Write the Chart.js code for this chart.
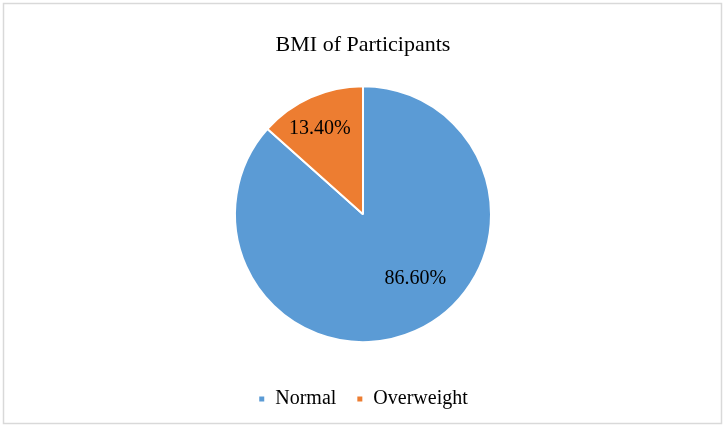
<!DOCTYPE html>
<html>
<head>
<meta charset="utf-8">
<script src="https://cdn.jsdelivr.net/npm/chart.js@4"></script>
<style>
  html, body { margin: 0; padding: 0; background: #fff; }
  #wrap { width: 726px; height: 429px; }
</style>
</head>
<body>
<div id="wrap"><canvas id="myChart" width="726" height="429"></canvas></div>
<script>
const categories = ["Normal", "Overweight"];
const shares = [86.6, 13.4];
const sliceColors = ["#5B9BD5", "#ED7D31"];

// outer border of the chart box
const frame = {
  id: "frame",
  beforeDraw(chart) {
    const c = chart.ctx;
    c.save();
    c.fillStyle = "#fff";
    c.fillRect(0, 0, chart.width, chart.height);
    c.strokeStyle = "#d9d9d9";
    c.lineWidth = 1.5;
    c.strokeRect(3.5, 3.5, 718, 420);
    c.restore();
  }
};

// percentage labels inside slices
const sliceLabels = {
  id: "sliceLabels",
  afterDatasetsDraw(chart, args, opts) {
    const c = chart.ctx;
    const meta = chart.getDatasetMeta(0);
    c.save();
    c.font = opts.font;
    c.fillStyle = "#000";
    c.textAlign = "center";
    c.textBaseline = "middle";
    meta.data.forEach((arc, i) => {
      const p = arc.getProps(["x", "y", "startAngle", "endAngle", "outerRadius"], true);
      const a = (p.startAngle + p.endAngle) / 2 + (opts.shift[i] || 0);
      const r = p.outerRadius * opts.dist[i];
      const v = chart.data.datasets[0].data[i];
      c.fillText(v.toFixed(2) + "%", p.x + Math.cos(a) * r, p.y + Math.sin(a) * r);
    });
    c.restore();
  }
};

const ctx = document.getElementById("myChart").getContext("2d");
const myChart = new Chart(ctx, {
  type: "pie",
  data: {
    labels: categories,
    datasets: [
      {
        data: shares,
        backgroundColor: sliceColors,
        borderColor: "#FFFFFF",
        borderWidth: 2,
        radius: 128,
      },
    ],
  },
  options: {
    responsive: false,
    animation: false,
    layout: { padding: { top: 0, bottom: 10, left: 0, right: 0 } },
    plugins: {
      title: {
        display: true,
        text: "BMI of Participants",
        color: "#000",
        font: { family: "'Liberation Serif', 'Times New Roman', serif", size: 22, weight: "normal" },
        padding: { top: 32, bottom: 1 },
      },
      legend: {
        position: "bottom",
        labels: {
          color: "#000",
          boxWidth: 7,
          boxHeight: 7,
          padding: 20,
          font: { family: "'Liberation Serif', 'Times New Roman', serif", size: 20, lineHeight: 1 },
        },
      },
      tooltip: { enabled: false },
      sliceLabels: {
        font: "20px 'Liberation Serif', 'Times New Roman', serif",
        dist: [0.65, 0.75],
        shift: [-0.26, -0.045],
      },
    },
  },
  plugins: [frame, sliceLabels],
});
</script>
</body>
</html>
